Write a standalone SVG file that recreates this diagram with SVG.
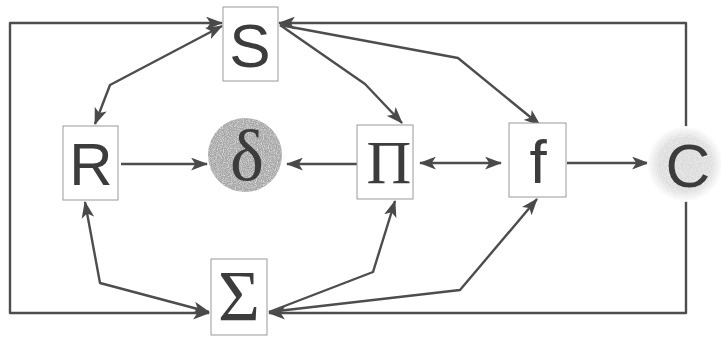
<svg xmlns="http://www.w3.org/2000/svg" width="721" height="337" viewBox="0 0 721 337">
  <style>
    .box { fill: #ffffff; stroke: #9a9a9a; stroke-width: 1; }
    .link { fill: none; stroke: #4d4d4d; stroke-width: 2.4; stroke-linejoin: round; }
    .sans { font-family: "Liberation Sans", Arial, sans-serif; fill: #3c3c3c; text-anchor: middle; }
    .serif { font-family: "Liberation Serif", "Times New Roman", serif; fill: #3c3c3c; text-anchor: middle; }
  </style>
  <defs>
    <marker id="arrow" viewBox="0 0 16 12" refX="15" refY="6" markerWidth="17" markerHeight="13" markerUnits="userSpaceOnUse" orient="auto-start-reverse">
      <path d="M0,0 L16,6 L0,12 L4,6 z" fill="#4a4a4a"/>
    </marker>
    <filter id="grain" x="0" y="0" width="100%" height="100%">
      <feTurbulence type="fractalNoise" baseFrequency="0.85" numOctaves="2" seed="4" result="noise"/>
      <feColorMatrix in="noise" type="matrix" values="0 0 0 0 1  0 0 0 0 1  0 0 0 0 1  1.4 0 0 0 -0.6" result="spots"/>
      <feComposite in="spots" in2="SourceGraphic" operator="in" result="clipped"/>
      <feMerge>
        <feMergeNode in="SourceGraphic"/>
        <feMergeNode in="clipped"/>
      </feMerge>
    </filter>
    <radialGradient id="softC" cx="0.5" cy="0.5" r="0.5">
      <stop offset="0" stop-color="#dadada"/>
      <stop offset="0.7" stop-color="#dedede"/>
      <stop offset="1" stop-color="#ffffff"/>
    </radialGradient>
  </defs>

  <!-- connectors -->
  <g id="connectors">
    <!-- outer loop on the left: S and Sigma -->
    <polyline class="link" points="222,23 10,23 10,313 209,313" marker-start="url(#arrow)" marker-end="url(#arrow)"/>
    <!-- outer loop on the right: C feeds S and Sigma -->
    <polyline class="link" points="686,128 686,23 279,23" marker-end="url(#arrow)"/>
    <polyline class="link" points="686,200 686,313 269,313" marker-end="url(#arrow)"/>
    <!-- S <-> R -->
    <polyline class="link" points="222,26 110,85 95,124" marker-start="url(#arrow)" marker-end="url(#arrow)"/>
    <!-- S -> Pi -->
    <polyline class="link" points="280,25 365,84 402,123" marker-end="url(#arrow)"/>
    <!-- S -> f -->
    <polyline class="link" points="280,25 458,58 540,125" marker-end="url(#arrow)"/>
    <!-- R <-> Sigma -->
    <polyline class="link" points="85,202 100,283 209,312" marker-start="url(#arrow)" marker-end="url(#arrow)"/>
    <!-- Sigma -> Pi -->
    <polyline class="link" points="269,312 373,272 395,201" marker-end="url(#arrow)"/>
    <!-- Sigma -> f -->
    <polyline class="link" points="269,312 460,290 537,199" marker-end="url(#arrow)"/>
    <!-- middle row -->
    <line class="link" x1="121" y1="164" x2="207" y2="164" marker-end="url(#arrow)"/>
    <line class="link" x1="357" y1="164" x2="287" y2="164" marker-end="url(#arrow)"/>
    <line class="link" x1="420" y1="163" x2="501" y2="163" marker-start="url(#arrow)" marker-end="url(#arrow)"/>
    <line class="link" x1="567" y1="163" x2="648" y2="163" marker-end="url(#arrow)"/>
  </g>

  <!-- nodes -->
  <g id="node-S">
    <rect class="box" x="223" y="7" width="55" height="74"/>
    <text class="sans" x="250" y="67" font-size="62">S</text>
  </g>
  <g id="node-R">
    <rect class="box" x="63" y="126" width="55" height="74"/>
    <text class="sans" x="91" y="185" font-size="60">R</text>
  </g>
  <g id="node-delta">
    <circle cx="245" cy="155" r="37" fill="#a8a8a8" filter="url(#grain)"/>
    <text class="serif" x="247" y="180" font-size="72">δ</text>
  </g>
  <g id="node-Pi">
    <rect class="box" x="357" y="125" width="56" height="74"/>
    <text class="serif" x="389" y="183" font-size="62">Π</text>
  </g>
  <g id="node-f">
    <rect class="box" x="509" y="123" width="57" height="74"/>
    <text class="sans" x="538" y="183" font-size="62">f</text>
  </g>
  <g id="node-C">
    <circle cx="685" cy="164" r="38" fill="url(#softC)" filter="url(#grain)"/>
    <text class="sans" x="688" y="187" font-size="62">C</text>
  </g>
  <g id="node-Sigma">
    <rect class="box" x="211" y="259" width="56" height="76"/>
    <text class="serif" x="239" y="320" font-size="72">Σ</text>
  </g>
</svg>
